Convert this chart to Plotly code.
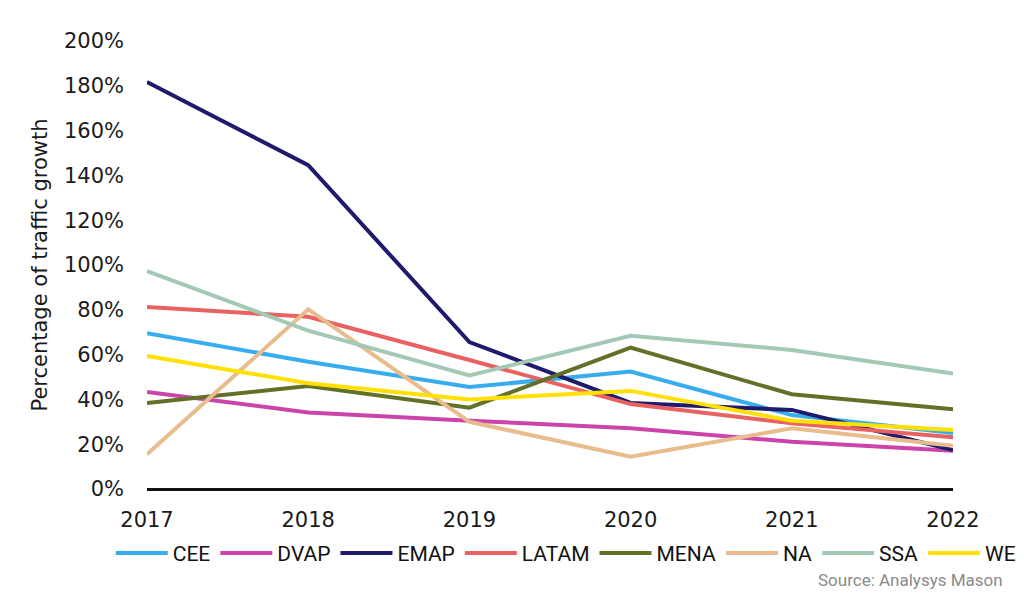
import plotly.graph_objects as go

years = [2017, 2018, 2019, 2020, 2021, 2022]
regions = ["CEE", "DVAP", "EMAP", "LATAM", "MENA", "NA", "SSA", "WE"]
cee = [69.6, 56.8, 45.5, 52.4, 33.0, 25.0]
dvap = [43.3, 34.2, 30.5, 27.1, 21.1, 17.1]
emap = [181.7, 144.6, 65.6, 38.4, 35.3, 17.4]
latam = [81.3, 76.9, 57.6, 37.9, 29.3, 23.1]
mena = [38.4, 46.0, 36.3, 63.1, 42.3, 35.6]
na = [15.5, 80.2, 30.0, 14.4, 27.1, 19.3]
ssa = [97.3, 70.7, 50.7, 68.4, 62.1, 51.6]
we = [59.4, 47.2, 40.0, 43.8, 30.5, 26.3]
series = [cee, dvap, emap, latam, mena, na, ssa, we]
colors = ["#38ADEE", "#CC44AA", "#1F1A6B", "#E86262", "#627028", "#E8BC8C", "#A3C9B6", "#FFE000"]
y_ticks = [0, 20, 40, 60, 80, 100, 120, 140, 160, 180, 200]
y_tick_labels = [f"{v}%" for v in y_ticks]

fig = go.Figure()
for name, vals, col in zip(regions, series, colors):
    fig.add_trace(go.Scatter(x=years, y=vals, name=name, mode="lines",
                             line=dict(color=col, width=4)))

fig.update_layout(
    width=1016, height=586,
    margin=dict(l=139, r=71, t=33, b=105),
    plot_bgcolor="white", paper_bgcolor="white",
    font=dict(family="DejaVu Sans", color="#1a1a1a", size=21),
    showlegend=True,
    legend=dict(orientation="h", x=-0.045, xanchor="left", y=-0.098, yanchor="top",
                font=dict(family="Roboto", size=21, color="#111111"),
                itemwidth=52, tracegroupgap=0),
    xaxis=dict(range=[2017, 2022], tickvals=years, showgrid=False, zeroline=False,
               showline=False, ticks="", tickfont=dict(size=21), ticklabelstandoff=16),
    yaxis=dict(range=[0, 200], tickvals=y_ticks, ticktext=y_tick_labels, showgrid=False,
               zeroline=True, zerolinecolor="#111111", zerolinewidth=3, showline=False,
               ticks="", tickfont=dict(size=21), ticklabelstandoff=22,
               title=dict(text="Percentage of traffic growth", font=dict(size=21), standoff=10)),
    annotations=[dict(text="Source: Analysys Mason", xref="paper", yref="paper",
                      x=1.0645, y=-0.203, xanchor="right", yanchor="middle", showarrow=False,
                      font=dict(family="Roboto", size=17, color="#8a8a8a"))],
)
fig.write_html("out.html")
